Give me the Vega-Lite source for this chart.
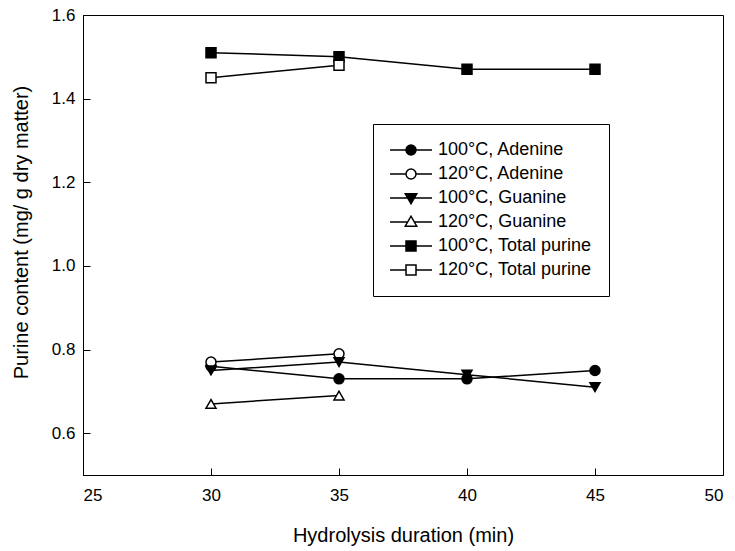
{
  "$schema": "https://vega.github.io/schema/vega-lite/v6.json",
  "width": 640,
  "height": 460,
  "autosize": {"type": "none"},
  "padding": {"left": 83, "top": 15, "right": 12, "bottom": 76},
  "background": "white",
  "config": {
    "font": "Liberation Sans",
    "view": {"stroke": "black", "strokeWidth": 1},
    "axis": {
      "grid": false,
      "domainColor": "black",
      "tickColor": "black",
      "labelColor": "black",
      "titleColor": "black",
      "labelFont": "Liberation Sans",
      "titleFont": "Liberation Sans",
      "titleFontWeight": "normal",
      "labelFontSize": 17,
      "titleFontSize": 20,
      "tickSize": -7
    }
  },
  "data": {
    "values": [
      {"x": 30, "y": 0.76, "series": "100°C, Adenine"},
      {"x": 35, "y": 0.73, "series": "100°C, Adenine"},
      {"x": 40, "y": 0.73, "series": "100°C, Adenine"},
      {"x": 45, "y": 0.75, "series": "100°C, Adenine"},
      {"x": 30, "y": 0.77, "series": "120°C, Adenine"},
      {"x": 35, "y": 0.79, "series": "120°C, Adenine"},
      {"x": 30, "y": 0.75, "series": "100°C, Guanine"},
      {"x": 35, "y": 0.77, "series": "100°C, Guanine"},
      {"x": 40, "y": 0.74, "series": "100°C, Guanine"},
      {"x": 45, "y": 0.71, "series": "100°C, Guanine"},
      {"x": 30, "y": 0.67, "series": "120°C, Guanine"},
      {"x": 35, "y": 0.69, "series": "120°C, Guanine"},
      {"x": 30, "y": 1.51, "series": "100°C, Total purine"},
      {"x": 35, "y": 1.50, "series": "100°C, Total purine"},
      {"x": 40, "y": 1.47, "series": "100°C, Total purine"},
      {"x": 45, "y": 1.47, "series": "100°C, Total purine"},
      {"x": 30, "y": 1.45, "series": "120°C, Total purine"},
      {"x": 35, "y": 1.48, "series": "120°C, Total purine"}
    ]
  },
  "encoding": {
    "x": {
      "field": "x", "type": "quantitative",
      "scale": {"domain": [25, 50], "nice": false, "zero": false},
      "axis": {
        "title": "Hydrolysis duration (min)",
        "values": [25, 30, 35, 40, 45, 50],
        "labelPadding": 19,
        "titleX": 320, "titleY": 66, "titleBaseline": "alphabetic", "titleAlign": "center"
      }
    },
    "y": {
      "field": "y", "type": "quantitative",
      "scale": {"domain": [0.5, 1.6], "nice": false, "zero": false},
      "axis": {
        "title": "Purine content (mg/ g dry matter)",
        "values": [0.6, 0.8, 1.0, 1.2, 1.4, 1.6],
        "format": ".1f",
        "labelPadding": 15,
        "titleX": -52, "titleY": 217, "titleAlign": "center", "titleBaseline": "bottom", "titleAngle": 270
      }
    }
  },
  "layer": [
    {
      "mark": {"type": "line", "color": "black", "strokeWidth": 1.5},
      "encoding": {"detail": {"field": "series"}}
    },
    {
      "mark": {"type": "point", "filled": true, "stroke": "black", "strokeWidth": 1.5, "size": 100, "opacity": 1},
      "encoding": {
        "shape": {
          "field": "series", "type": "nominal",
          "scale": {
            "domain": ["100°C, Adenine", "120°C, Adenine", "100°C, Guanine", "120°C, Guanine", "100°C, Total purine", "120°C, Total purine"],
            "range": ["circle", "circle", "triangle-down", "triangle-up", "square", "square"]
          },
          "legend": null
        },
        "fill": {
          "field": "series", "type": "nominal",
          "scale": {
            "domain": ["100°C, Adenine", "120°C, Adenine", "100°C, Guanine", "120°C, Guanine", "100°C, Total purine", "120°C, Total purine"],
            "range": ["black", "white", "black", "white", "black", "white"]
          },
          "legend": null
        }
      }
    },
    {
      "mark": {"type": "point", "filled": true, "stroke": "black", "strokeWidth": 1.5, "size": 100, "opacity": 0},
      "encoding": {
        "shape": {
          "field": "series", "type": "nominal",
          "scale": {
            "domain": ["100°C, Adenine", "120°C, Adenine", "100°C, Guanine", "120°C, Guanine", "100°C, Total purine", "120°C, Total purine"],
            "range": [
              "M-4.2,0L-1,0M1,0L4.2,0M-1,0A1,1 0 1,0 1,0A1,1 0 1,0 -1,0Z",
              "M-4.2,0L-1,0M1,0L4.2,0M-1,0A1,1 0 1,0 1,0A1,1 0 1,0 -1,0Z",
              "M-4.2,0L-0.66,0M0.66,0L4.2,0M-1.15,-0.85L1.15,-0.85L0,1.15Z",
              "M-4.2,0L-0.66,0M0.66,0L4.2,0M-1.15,0.85L1.15,0.85L0,-1.15Z",
              "M-4.2,0L-1,0M1,0L4.2,0M-1,-1L1,-1L1,1L-1,1Z",
              "M-4.2,0L-1,0M1,0L4.2,0M-1,-1L1,-1L1,1L-1,1Z"
            ]
          },
          "legend": {
            "title": null,
            "orient": "none",
            "legendX": 290,
            "legendY": 109,
            "padding": 17,
            "strokeColor": "black",
            "fillColor": "white",
            "symbolSize": 100,
            "symbolOffset": 12,
            "labelOffset": 18,
            "symbolStrokeColor": "black",
            "symbolStrokeWidth": 1.5,
            "symbolOpacity": 1,
            "labelFont": "Liberation Sans",
            "labelFontSize": 18,
            "labelColor": "black",
            "labelLimit": 400,
            "rowPadding": 6,
            "encode": {
              "symbols": {"update": {"stroke": {"value": "black"}, "strokeWidth": {"value": 1.5}, "opacity": {"value": 1}}}
            }
          }
        },
        "fill": {
          "field": "series", "type": "nominal",
          "scale": {
            "domain": ["100°C, Adenine", "120°C, Adenine", "100°C, Guanine", "120°C, Guanine", "100°C, Total purine", "120°C, Total purine"],
            "range": ["black", "white", "black", "white", "black", "white"]
          },
          "legend": {
            "title": null,
            "orient": "none",
            "legendX": 290,
            "legendY": 109,
            "padding": 17,
            "strokeColor": "black",
            "fillColor": "white",
            "symbolSize": 100,
            "symbolOffset": 12,
            "labelOffset": 18,
            "symbolStrokeColor": "black",
            "symbolStrokeWidth": 1.5,
            "symbolOpacity": 1,
            "labelFont": "Liberation Sans",
            "labelFontSize": 18,
            "labelColor": "black",
            "labelLimit": 400,
            "rowPadding": 6,
            "encode": {
              "symbols": {"update": {"stroke": {"value": "black"}, "strokeWidth": {"value": 1.5}, "opacity": {"value": 1}}}
            }
          }
        }
      }
    }
  ],
  "resolve": {"scale": {"shape": "independent", "fill": "independent"}}
}
